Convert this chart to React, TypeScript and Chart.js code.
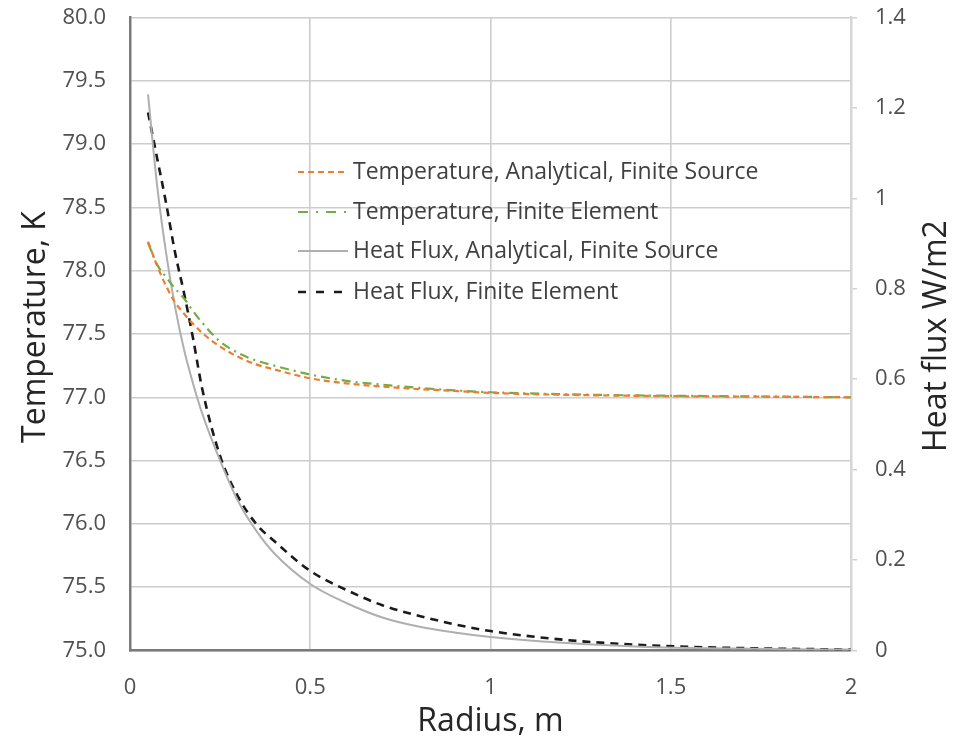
import React, { useEffect, useRef } from "react";
import { Chart, registerables } from "chart.js";

Chart.register(...registerables);

// Radius, m
const radius = [0.05, 0.075, 0.1, 0.125, 0.15, 0.175, 0.2, 0.25, 0.3, 0.35, 0.4, 0.5, 0.6, 0.7, 0.8, 0.9, 1.0, 1.2, 1.4, 1.6, 1.8, 2.0];
// Temperature, K
const tempAnalytical = [78.23, 78.04, 77.88, 77.75, 77.66, 77.58, 77.51, 77.4, 77.32, 77.26, 77.22, 77.15, 77.11, 77.085, 77.065, 77.05, 77.035, 77.02, 77.012, 77.007, 77.004, 77.0];
const tempFE = [78.22, 78.05, 77.95, 77.86, 77.78, 77.68, 77.59, 77.44, 77.35, 77.29, 77.25, 77.18, 77.13, 77.1, 77.075, 77.055, 77.04, 77.025, 77.015, 77.01, 77.005, 77.0];
// Heat flux, W/m2
const fluxAnalytical = [1.23, 1.03, 0.88, 0.76, 0.665, 0.59, 0.525, 0.42, 0.33, 0.265, 0.215, 0.147, 0.105, 0.073, 0.053, 0.04, 0.03, 0.017, 0.009, 0.005, 0.003, 0.002];
const fluxFE = [1.19, 1.09, 0.99, 0.88, 0.79, 0.69, 0.58, 0.43, 0.34, 0.28, 0.242, 0.176, 0.134, 0.1, 0.077, 0.058, 0.043, 0.024, 0.013, 0.007, 0.004, 0.002];

const seriesLabels = [
  "Temperature, Analytical, Finite Source",
  "Temperature, Finite Element",
  "Heat Flux, Analytical, Finite Source",
  "Heat Flux, Finite Element",
];
const xTicks = [0, 0.5, 1, 1.5, 2];
const xTitle = "Radius, m";
const yTitle = "Temperature, K";
const y1Title = "Heat flux W/m2";

const FONT = "'Open Sans', 'Noto Sans', sans-serif";
const TICK_COLOR = "#505050";

const toXY = (ys: number[]) => radius.map((x, i) => ({ x, y: ys[i] }));

const overlayPlugin = {
  id: "overlay",
  afterDraw(chart: any) {
    const ctx = chart.ctx as CanvasRenderingContext2D;
    const ca = chart.chartArea;
    const midY = (ca.top + ca.bottom) / 2;
    ctx.save();
    // Axis titles
    ctx.fillStyle = "#262626";
    ctx.font = `32px ${FONT}`;
    ctx.textAlign = "center";
    ctx.textBaseline = "alphabetic";
    ctx.fillText(xTitle, (ca.left + ca.right) / 2, 731);
    ctx.save();
    ctx.translate(45, midY - 7);
    ctx.rotate(-Math.PI / 2);
    ctx.fillText(yTitle, 0, 0);
    ctx.restore();
    ctx.save();
    ctx.translate(946, midY + 2);
    ctx.rotate(-Math.PI / 2);
    ctx.fillText(y1Title, 0, 0);
    ctx.restore();

    // Legend
    const rows = [172, 212, 251, 292];
    ctx.font = `23px ${FONT}`;
    ctx.textAlign = "left";
    ctx.textBaseline = "middle";
    chart.data.datasets.forEach((ds: any, i: number) => {
      const y = rows[i];
      ctx.save();
      ctx.strokeStyle = ds.borderColor;
      ctx.lineWidth = ds.borderWidth;
      ctx.setLineDash(ds.legendDash || []);
      ctx.beginPath();
      ctx.moveTo(298, y);
      ctx.lineTo(348, y);
      ctx.stroke();
      ctx.restore();
      ctx.fillStyle = "#404040";
      ctx.fillText(ds.label, 353, y);
    });
    ctx.restore();
  },
};

const fixVertical = (w: number) => (s: any) => {
  s.width = w;
  s.paddingTop = 0;
  s.paddingBottom = 0;
};

export default function App() {
  const ref = useRef<HTMLCanvasElement | null>(null);

  useEffect(() => {
    if (!ref.current) return;
    const chart = new Chart(ref.current, {
      type: "line",
      data: {
        datasets: [
          {
            label: seriesLabels[0],
            data: toXY(tempAnalytical),
            yAxisID: "y",
            borderColor: "#ED7D31",
            borderWidth: 2.2,
            borderDash: [6, 4],
            legendDash: [6, 4],
            pointRadius: 0,
            cubicInterpolationMode: "monotone",
          } as any,
          {
            label: seriesLabels[1],
            data: toXY(tempFE),
            yAxisID: "y",
            borderColor: "#70AD47",
            borderWidth: 2.2,
            borderDash: [9, 5, 2, 5],
            legendDash: [10, 8, 2, 8],
            pointRadius: 0,
            cubicInterpolationMode: "monotone",
          } as any,
          {
            label: seriesLabels[2],
            data: toXY(fluxAnalytical),
            yAxisID: "y1",
            borderColor: "#AFAFAF",
            borderWidth: 2,
            borderDash: [],
            legendDash: [],
            pointRadius: 0,
            cubicInterpolationMode: "monotone",
          } as any,
          {
            label: seriesLabels[3],
            data: toXY(fluxFE),
            yAxisID: "y1",
            borderColor: "#1A1A1A",
            borderWidth: 2.6,
            borderDash: [8, 6],
            legendDash: [8, 10],
            pointRadius: 0,
            cubicInterpolationMode: "monotone",
          } as any,
        ],
      },
      options: {
        animation: false,
        responsive: false,
        maintainAspectRatio: false,
        layout: { padding: { top: 17.5, left: 0, right: 0, bottom: 0 } },
        plugins: { legend: { display: false }, tooltip: { enabled: false } },
        scales: {
          x: {
            type: "linear",
            min: 0,
            max: 2,
            afterFit: (s: any) => {
              s.height = 87.5;
              s.paddingLeft = 0;
              s.paddingRight = 0;
            },
            afterBuildTicks: (s: any) => {
              s.ticks = xTicks.map((v) => ({ value: v }));
            },
            grid: { color: "#CDCDCD", lineWidth: 1.6, drawTicks: false },
            border: { color: "#7A7A7A", width: 2.5 },
            ticks: {
              padding: 24,
              color: TICK_COLOR,
              font: { family: FONT, size: 22 },
              maxRotation: 0,
              callback: (v: any) => String(v),
            },
          },
          y: {
            type: "linear",
            position: "left",
            min: 75,
            max: 80,
            afterFit: fixVertical(130),
            grid: { color: "#CDCDCD", lineWidth: 1.6, drawTicks: false },
            border: { color: "#7A7A7A", width: 2.5 },
            ticks: {
              stepSize: 0.5,
              padding: 24,
              color: TICK_COLOR,
              font: { family: FONT, size: 22 },
              callback: (v: any) => Number(v).toFixed(1),
            },
          },
          y1: {
            type: "linear",
            position: "right",
            min: 0,
            max: 1.4,
            afterFit: fixVertical(109),
            grid: { drawOnChartArea: false, drawTicks: true, tickLength: 6, color: "#D0D0D0", lineWidth: 1.5 },
            border: { color: "#D6D6D6", width: 2.5 },
            ticks: {
              stepSize: 0.2,
              padding: 18,
              color: TICK_COLOR,
              font: { family: FONT, size: 22 },
              callback: (v: any) => String(Math.round(Number(v) * 10) / 10),
            },
          },
        },
      },
      plugins: [overlayPlugin],
    });
    return () => chart.destroy();
  }, []);

  return (
    <div style={{ position: "absolute", left: 0, top: 0, width: 960, height: 738, background: "#fff" }}>
      <canvas ref={ref} width={960} height={738} style={{ width: 960, height: 738, display: "block" }} />
    </div>
  );
}
